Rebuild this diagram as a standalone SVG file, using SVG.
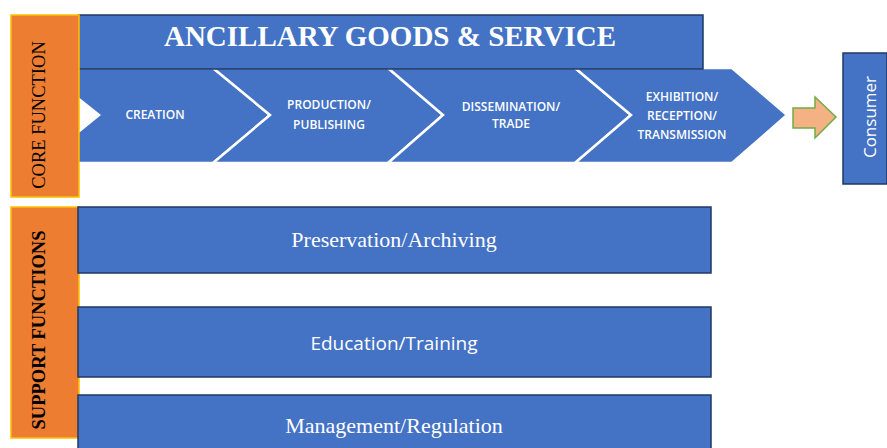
<svg xmlns="http://www.w3.org/2000/svg" width="887" height="448" viewBox="0 0 887 448">
<style>
.blue{fill:#4472C4;stroke:#1F3864;stroke-width:1.5}
.chev{fill:#4472C4;stroke:#FFFFFF;stroke-width:2.5;stroke-linejoin:miter}
.side{fill:#ED7D31;stroke:#FFC000;stroke-width:1.5}
.ct{font-family:"Open Sans","DejaVu Sans",sans-serif;font-size:12px;font-weight:600;fill:#FFFFFF;text-anchor:middle}
.serif{font-family:"Liberation Serif","Times New Roman",serif}
.wt{fill:#FFFFFF;text-anchor:middle}
.sans{font-family:"Open Sans","DejaVu Sans",sans-serif}
</style>
<rect width="887" height="448" fill="#FFFFFF"/>
<g id="chevrons">
<g id="creation"><polygon class="chev" points="40,68 213,68 270,115 213,163 40,163 99,115"/><text class="ct" x="155" y="119">CREATION</text></g>
<g id="production"><polygon class="chev" points="213,68 388,68 443,115 388,163 213,163 270,115"/><text class="ct" x="329" y="109">PRODUCTION/</text><text class="ct" x="329" y="129">PUBLISHING</text></g>
<g id="dissemination"><polygon class="chev" points="388,68 575,68 631,115 575,163 388,163 443,115"/><text class="ct" x="511" y="111">DISSEMINATION/</text><text class="ct" x="511" y="128">TRADE</text></g>
<g id="exhibition"><polygon class="chev" points="575,68 732,68 787,115 732,163 575,163 631,115"/><text class="ct" x="682" y="101">EXHIBITION/</text><text class="ct" x="682" y="120">RECEPTION/</text><text class="ct" x="682" y="139">TRANSMISSION</text></g>
</g>
<g id="ancillary"><rect class="blue" x="78" y="15" width="625" height="54"/><text class="serif wt" x="390" y="46" font-size="29" font-weight="bold">ANCILLARY GOODS &amp; SERVICE</text></g>
<g id="core-function"><rect class="side" x="11" y="15" width="68" height="182"/><text class="serif" transform="translate(45,115) rotate(-90)" text-anchor="middle" font-size="18.5" fill="#000000">CORE FUNCTION</text></g>
<g id="connectors"><polygon points="793,108 815,108 815,97 836,117 815,138 815,128 793,128" fill="#F4B183" stroke="#70AD47" stroke-width="1.5"/></g>
<g id="consumer"><rect class="blue" x="843" y="53" width="44" height="131"/><text class="sans wt" transform="translate(876,117) rotate(-90)" font-size="17">Consumer</text></g>
<g id="support-functions"><rect class="side" x="11" y="207" width="68" height="231"/><text class="serif" transform="translate(45,330) rotate(-90)" text-anchor="middle" font-size="18.5" font-weight="bold" fill="#000000">SUPPORT FUNCTIONS</text></g>
<g id="preservation"><rect class="blue" x="78" y="207" width="633" height="66"/><text class="serif wt" x="394" y="247" font-size="22">Preservation/Archiving</text></g>
<g id="education"><rect class="blue" x="78" y="307" width="633" height="70"/><text class="sans wt" x="394" y="350" font-size="19">Education/Training</text></g>
<g id="management"><rect class="blue" x="78" y="395" width="633" height="60"/><text class="serif wt" x="394" y="433" font-size="22">Management/Regulation</text></g>
</svg>
